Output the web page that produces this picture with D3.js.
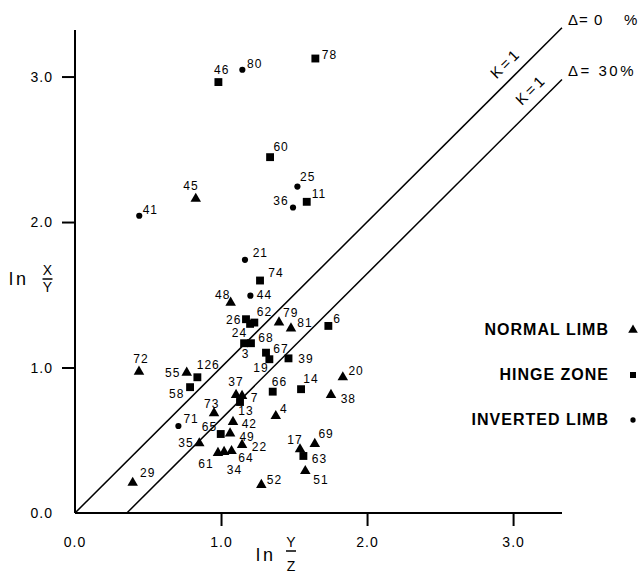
<!DOCTYPE html>
<html><head><meta charset="utf-8">
<script src="https://cdn.jsdelivr.net/npm/d3@7"></script>
<style>
body{margin:0;background:#fff}
svg{display:block}
text{font-family:"Liberation Sans",Arial,Helvetica,sans-serif;fill:#000}
</style>
</head><body>
<svg id="chart" width="639" height="574"></svg>
<script>
// ---- data ----
const pointIds = [
  "45","48","79","81","72","55","37","7","20","38","73","4","42","49","35","22","61","34","64","69","17","51","29","52",
  "46","78","60","11","74","26","62","24","3","68","67","19","39","6","126","58","66","14","13","65","63",
  "80","25","36","41","21","44","71"
];
const pointGroups = [
  "N","N","N","N","N","N","N","N","N","N","N","N","N","N","N","N","N","N","N","N","N","N","N","N",
  "H","H","H","H","H","H","H","H","H","H","H","H","H","H","H","H","H","H","H","H","H",
  "I","I","I","I","I","I","I"
];
// ln(Y/Z)
const lnYZ = [
  0.827,1.066,1.397,1.479,0.438,0.765,1.103,1.144,1.834,1.753,0.952,1.375,1.082,1.062,0.851,1.144,0.979,1.021,1.072,1.642,1.541,1.577,0.395,1.276,
  0.982,1.646,1.336,1.587,1.267,1.171,1.228,1.199,1.158,1.205,1.308,1.331,1.462,1.735,0.838,0.788,1.354,1.548,1.130,0.998,1.564,
  1.146,1.523,1.493,0.440,1.164,1.201,0.708
];
// ln(X/Y)
const lnXY = [
  2.160,1.446,1.310,1.269,0.972,0.965,0.812,0.805,0.933,0.812,0.686,0.667,0.626,0.547,0.479,0.468,0.413,0.420,0.426,0.475,0.438,0.289,0.208,0.193,
  2.962,3.124,2.446,2.139,1.598,1.332,1.309,1.300,1.167,1.167,1.102,1.057,1.063,1.286,0.933,0.865,0.834,0.851,0.763,0.543,0.392,
  3.047,2.244,2.100,2.043,1.740,1.494,0.598
];
const xTicks = [1.0, 2.0, 3.0];
const yTicks = [1.0, 2.0, 3.0];
const legendNames = ["NORMAL LIMB","HINGE ZONE","INVERTED LIMB"];
const legendGroups = ["N","H","I"];
const refOffsets = [0, 0.355];          // K=1 lines: ln(X/Y) = ln(Y/Z) - offset
const refNames = ["\u0394= 0    %", "\u0394= 30%"];

// ---- layout (label placement, pixels relative to the marker) ----
const labelDx = [
  -12.4,-15.7,4,6.3,-5.7,-21.7,-7.7,8.7,5.6,9.7,-10,4.3,8.7,9.3,-21,9.7,-19.7,2.7,6.8,3.6,-12.7,8,7.3,5.4,
  -4.3,6.4,3.3,5,8.3,-20,2.4,-18.3,-2.3,7.3,7.3,-16,9.8,5,-0.6,-21,-1,2.3,-1.7,-19,8.4,
  4.7,2.7,-19.7,3.4,7.7,6.4,5
];
const labelDy = [
  -8.3,-3.7,-5.8,-1.8,-8.4,4.6,-9,5.7,-2.3,7.7,-5,-2.7,5.6,7.2,3.4,5.7,15.3,22,10.7,-5.7,-5.3,13,-5.4,-0.7,
  -8.3,0.3,-6.6,-3.7,-3.4,4.7,-6.7,12.7,14.4,-1.6,0,12.4,4.2,-2.7,-8,11,-5.7,-6,13,-3,7.3,
  -1.7,-6,-2,-2,-3.3,3.6,-2.7
];

const svg = d3.select("#chart");
const x = d3.scaleLinear().domain([0, 3.335]).range([75, 562]);
const y = d3.scaleLinear().domain([0, 3.32]).range([513, 30]);

const symbolOf = {N: d3.symbolTriangle, H: d3.symbolSquare, I: d3.symbolCircle};
const sizeOf = {N: 48, H: 62, I: 30};

// reference lines
refOffsets.forEach((off, i) => {
  const x0 = Math.max(0, off), x1 = 3.335;
  svg.append("line")
    .attr("x1", x(x0)).attr("y1", y(x0 - off))
    .attr("x2", x(x1)).attr("y2", y(x1 - off))
    .attr("stroke", "#000").attr("stroke-width", 1.5);
  svg.append("text")
    .attr("x", x(x1) + 6).attr("y", y(x1 - off) - 3)
    .attr("font-size", 15).attr("letter-spacing", i === 0 ? 1 : 2.5)
    .style("white-space", "pre")
    .text(refNames[i]);
  // K=1 label along the line
  const t = i === 0 ? 3.02 : 3.194;
  const px = x(t), py = y(t - off);
  const ang = Math.atan2(y(1) - y(0), x(1) - x(0)) * 180 / Math.PI;
  const d = 15;
  svg.append("text")
    .attr("transform", `translate(${px - d*0.707},${py - d*0.707}) rotate(${ang})`)
    .attr("text-anchor", "middle").attr("dy", "0.36em")
    .attr("font-size", 15).attr("letter-spacing", 3)
    .text("K=1");
});

// axes
const xAxis = d3.axisBottom(x).tickValues(xTicks).tickSize(13).tickFormat(d3.format(".1f"));
const yAxis = d3.axisLeft(y).tickValues(yTicks).tickSize(13).tickFormat(d3.format(".1f"));
const gx = svg.append("g").attr("transform", "translate(0,513)").call(xAxis);
const gy = svg.append("g").attr("transform", "translate(75,0)").call(yAxis);
[gx, gy].forEach(g => {
  g.select(".domain").attr("stroke", "#000").attr("stroke-width", 2);
  g.selectAll(".tick line").attr("stroke", "#000").attr("stroke-width", 2);
  g.selectAll(".tick text").attr("font-size", 14).attr("letter-spacing", 1)
    .attr("font-family", "'Liberation Sans',Arial,sans-serif").attr("fill", "#000");
});
gx.select(".domain").attr("d", "M75,0H562");
gy.select(".domain").attr("d", "M0,30V513");
gx.selectAll(".tick text").attr("dy", "0").attr("y", 34);
gy.selectAll(".tick text").attr("x", -22);
// 0.0 labels
svg.append("text").attr("x", x(0)).attr("y", 547).attr("text-anchor", "middle")
  .attr("font-size", 14).attr("letter-spacing", 1).text("0.0");
svg.append("text").attr("x", 53).attr("y", 518).attr("text-anchor", "end")
  .attr("font-size", 14).attr("letter-spacing", 1).text("0.0");

// axis titles
function fracTitle(lx, lb, fx, top, bottom) {
  svg.append("text").attr("x", lx).attr("y", lb).attr("font-size", 18).attr("letter-spacing", 3).text("ln");
  svg.append("text").attr("x", fx).attr("y", top.b).attr("text-anchor", "middle").attr("font-size", 14).text(top.t);
  svg.append("line").attr("x1", fx - 5).attr("x2", fx + 5).attr("y1", top.b + 4).attr("y2", top.b + 4)
    .attr("stroke", "#000").attr("stroke-width", 1.5);
  svg.append("text").attr("x", fx).attr("y", bottom.b).attr("text-anchor", "middle").attr("font-size", 14).text(bottom.t);
}
fracTitle(9, 285, 47.5, {t: "X", b: 275}, {t: "Y", b: 292});
fracTitle(256, 561, 291, {t: "Y", b: 547}, {t: "Z", b: 571});

// points
const pts = pointIds.map((id, i) => ({id, g: pointGroups[i], vx: lnYZ[i], vy: lnXY[i], dx: labelDx[i], dy: labelDy[i]}));
svg.append("g").selectAll("path").data(pts).join("path")
  .attr("transform", d => `translate(${x(d.vx)},${y(d.vy)})`)
  .attr("d", d => d3.symbol().type(symbolOf[d.g]).size(sizeOf[d.g])())
  .attr("fill", "#000");
svg.append("g").selectAll("text").data(pts).join("text")
  .attr("x", d => x(d.vx) + d.dx).attr("y", d => y(d.vy) + d.dy)
  .attr("font-size", 12).attr("letter-spacing", 1)
  .text(d => d.id);

// legend
legendNames.forEach((name, i) => {
  const ly = 335 + i * 45;
  svg.append("text").attr("x", 609).attr("y", ly).attr("text-anchor", "end")
    .attr("font-size", 16).attr("font-weight", "bold").attr("letter-spacing", 1).text(name);
  const sizes = {N: 40, H: 36, I: 22};
  svg.append("path")
    .attr("transform", `translate(633,${ly - 5})`)
    .attr("d", d3.symbol().type(symbolOf[legendGroups[i]]).size(sizes[legendGroups[i]])())
    .attr("fill", "#000");
});
</script>
</body></html>
